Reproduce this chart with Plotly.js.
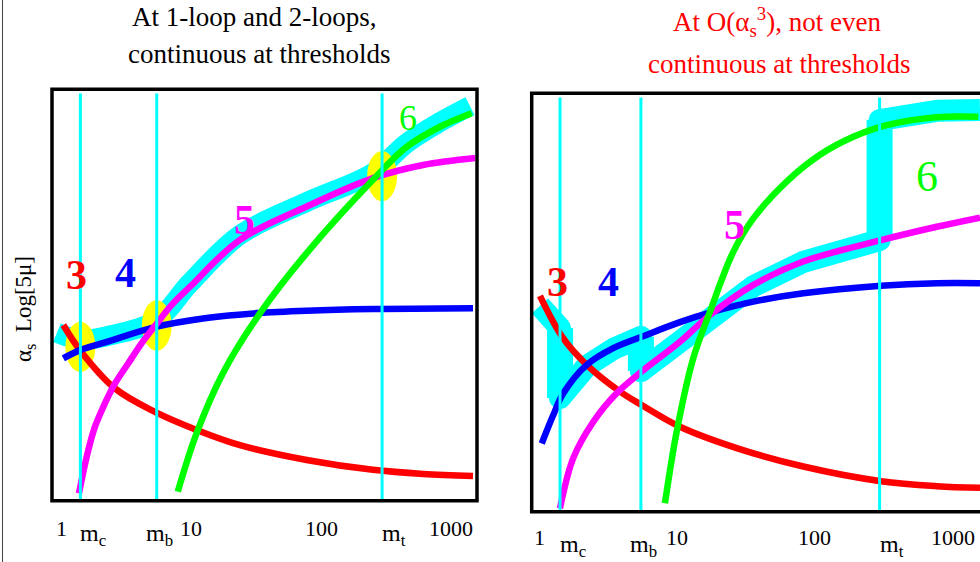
<!DOCTYPE html>
<html><head><meta charset="utf-8">
<script src="https://cdn.plot.ly/plotly-3.0.1.min.js"></script>
<style>
html,body{margin:0;padding:0;background:#fff;}
#chart{width:980px;height:562px;}
path.js-line{stroke-linejoin:round !important;}
</style>
</head><body><div id="chart"></div>
<script>
// ---- data (schematic) ----
const thresholdNames = ['m<sub>c</sub>', 'm<sub>b</sub>', 'm<sub>t</sub>'];
const thresholds = [1.41, 5.45, 295];           // scale mu (GeV), schematic
const scaleTicks = [1, 10, 100, 1000];
const scaleTickText = ['1', '10', '100', '1000'];
const flavourLabels = ['3', '4', '5', '6'];

// Left panel: 1-loop / 2-loop, continuous at thresholds
const L_red_x  = [1.042, 1.40, 2.60, 5.28, 11.07, 23.8, 77.6, 251, 610, 1476];
const L_red_y  = [42.7, 36.6, 27.3, 21.6, 17.2, 13.5, 9.9, 7.5, 6.5, 6.0];
const L_blue_x = [1.042, 1.40, 2.25, 5.28, 13.2, 32.0, 77.6, 251, 1476];
const L_blue_y = [34.6, 36.6, 38.6, 42.2, 44.4, 45.6, 46.2, 46.6, 46.8];
const L_mag_x  = [1.375, 1.577, 1.826, 2.180, 2.603, 3.294, 4.176, 5.285, 7.105, 9.82, 23.8, 77.6, 251, 610, 1531];
const L_mag_y  = [1.8, 10.7, 18.0, 23.7, 28.5, 33.4, 38.3, 42.5, 47.6, 52.0, 63.4, 71.5, 78.4, 81.6, 83.3];
const L_grn_x  = [7.91, 11.07, 17.6, 34.0, 77.6, 251, 456, 822, 1442];
const L_grn_y  = [2.2, 16.5, 31.0, 45.6, 60.2, 78.0, 86.0, 90.9, 94.2];
const L_band_x = [0.931, 1.41, 2.25, 5.45, 9.82, 23.8, 77.6, 251, 456, 822, 1400];
const L_band_y = [40.8, 39.1, 40.0, 43.9, 52.9, 64.6, 72.6, 79.7, 86.9, 92.0, 95.9];
const L_match_y = [37.4, 42.6, 78.9];          // matching points at mc, mb, mt

// Right panel: O(alpha_s^3), discontinuous
const R_red_x  = [1.008, 1.489, 2.203, 3.846, 5.521, 10.47, 27.04, 82.41, 302, 767, 1581];
const R_red_y  = [51.6, 41.4, 35.1, 28.7, 25.5, 20.3, 15.2, 10.8, 7.3, 6.1, 5.7];
const R_blue_x = [1.038, 1.259, 1.489, 2.203, 3.436, 5.521, 10.47, 18.28, 35.73, 82.41, 302, 767, 1581];
const R_blue_y = [16.3, 23.1, 28.3, 35.1, 39.1, 41.8, 45.3, 47.8, 50.2, 52.2, 54.0, 54.6, 54.6];
const R_mag_x  = [1.409, 1.758, 2.460, 3.631, 5.521, 10.47, 17.30, 35.73, 82.41, 302, 767, 1581];
const R_mag_y  = [0.8, 12.8, 21.5, 28.3, 33.5, 40.6, 47.0, 54.2, 59.8, 64.9, 68.1, 70.3];
const R_grn_x  = [8.147, 9.908, 13.09, 17.30, 25.53, 35.73, 62.37, 108.9, 190.1, 331.9, 767, 1538];
const R_grn_y  = [2.0, 19.1, 36.7, 47.8, 62.1, 70.1, 78.9, 85.3, 89.6, 92.4, 94.3, 94.4];
const R_band_x = [1.008, 1.41, 1.41, 2.203, 3.436, 5.45, 5.45, 10.47, 17.30, 35.73, 82.41, 295, 295, 767, 1581];
const R_band_y = [49.2, 43.9, 27.2, 34.8, 38.9, 41.8, 33.6, 40.6, 46.8, 53.9, 59.7, 64.9, 93.6, 95.8, 96.0];

// ---- styling / layout ----
const W = 980, H = 562;
const PX = p => p / W, PY = p => 1 - p / H;
const SERIF = "'Liberation Serif', 'Times New Roman', Times, serif";
const C = {red:'#ff0000', blue:'#0000ff', mag:'#ff00ff', grn:'#00ff00', cyan:'#00ffff', yel:'#ffff00'};
const curveW = 6.5;
const ELL_HALF_DEC = 0.115, ELL_HALF_Y = 6.1;   // size of the yellow matching blobs

function ln(x, y, color, width, xa, ya, shape) {
  return {type:'scatter', mode:'lines', x:x, y:y, xaxis:xa, yaxis:ya, hoverinfo:'skip', showlegend:false,
          line:{color:color, width:width, shape:shape || 'spline', smoothing:1}};
}
function thrLines(xa, ya) {
  return thresholds.map(t => ln([t, t], [99, 0], C.cyan, 3, xa, ya, 'linear'));
}
// wider strokes where the O(as^3) coupling jumps at a threshold
const jumpTraces = [];
for (let i = 1; i < R_band_x.length; i++) {
  if (R_band_x[i] === R_band_x[i - 1]) {
    jumpTraces.push(ln([R_band_x[i - 1], R_band_x[i]], [R_band_y[i - 1], R_band_y[i]], C.cyan, 26, 'x3', 'y3', 'linear'));
  }
}

const data = [
  ln(L_band_x, L_band_y, C.cyan, 20, 'x', 'y'),
  ln(L_red_x, L_red_y, C.red, curveW, 'x2', 'y2'),
  ln(L_blue_x, L_blue_y, C.blue, curveW, 'x2', 'y2'),
  ln(L_mag_x, L_mag_y, C.mag, curveW, 'x2', 'y2'),
  ln(L_grn_x, L_grn_y, C.grn, curveW, 'x2', 'y2'),
  ...thrLines('x2', 'y2'),
  ln(R_band_x, R_band_y, C.cyan, 22, 'x3', 'y3', 'linear'),
  ...jumpTraces,
  ln(R_red_x, R_red_y, C.red, curveW, 'x4', 'y4'),
  ln(R_blue_x, R_blue_y, C.blue, curveW, 'x4', 'y4'),
  ln(R_mag_x, R_mag_y, C.mag, curveW, 'x4', 'y4'),
  ln(R_grn_x, R_grn_y, C.grn, curveW, 'x4', 'y4'),
  ...thrLines('x4', 'y4')
];

const LD = {x:[PX(52), PX(477)], y:[PY(500.7), PY(89.3)], r:[-0.0692, 3.2]};
const RD = {x:[PX(531.7), 1], y:[PY(511.7), PY(93.3)], r:[-0.0566, 3.199]};
function xa(d, anchor) { return {domain:d.x, range:d.r, type:'log', visible:false, anchor:anchor, fixedrange:true}; }
function ya(d, anchor) { return {domain:d.y, range:[0, 100], visible:false, anchor:anchor, fixedrange:true}; }

const shapes = [
  {type:'rect', xref:'paper', yref:'paper', x0:LD.x[0], x1:LD.x[1], y0:LD.y[0], y1:LD.y[1],
   line:{color:'#000', width:3.5}, layer:'above'},
  {type:'rect', xref:'paper', yref:'paper', x0:RD.x[0], x1:1.05, y0:RD.y[0], y1:RD.y[1],
   line:{color:'#000', width:3.5}, layer:'above'},
  {type:'line', xref:'paper', yref:'paper', x0:PX(2.5), x1:PX(2.5), y0:0, y1:1,
   line:{color:'#444', width:1}, layer:'above'}
];
const ellF = Math.pow(10, ELL_HALF_DEC);
thresholds.forEach((t, i) => {
  shapes.push({type:'circle', xref:'x2', yref:'y2',
    x0:t / ellF, x1:t * ellF, y0:L_match_y[i] - ELL_HALF_Y, y1:L_match_y[i] + ELL_HALF_Y,
    fillcolor:C.yel, line:{width:0}, layer:'below'});
});

const ann = [];
function txt(text, x, y, size, color, extra) {
  ann.push(Object.assign({text:text, x:PX(x), y:PY(y), xref:'paper', yref:'paper', showarrow:false,
    xanchor:'center', yanchor:'middle', font:{family:SERIF, size:size, color:color}}, extra || {}));
}
txt('At 1-loop and 2-loops,', 253.5, 17.5, 27, '#000');
txt('continuous at thresholds', 259, 54, 27, '#000');
txt('At O(α<sub>s</sub><sup>3</sup>), not even', 777, 22, 27, '#f00');
txt('continuous at thresholds', 779, 64, 27, '#f00');
txt('α<sub>s</sub>\u00a0\u00a0Log[5μ]', 25, 309, 23, '#000', {textangle:-90});

const tickY = {x:528, x3:537.5};
const mY = {x:535, x3:546};
const mShift = [13, 3, 12];
['x', 'x3'].forEach(ref => {
  scaleTicks.forEach((v, i) => ann.push({text:scaleTickText[i], x:Math.log10(v), xref:ref, y:PY(tickY[ref]), yref:'paper',
    showarrow:false, xanchor:'center', yanchor:'middle', font:{family:SERIF, size:22, color:'#000'}}));
  thresholds.forEach((t, i) => ann.push({text:thresholdNames[i], x:Math.log10(t), xref:ref, y:PY(mY[ref]), yref:'paper',
    xshift:mShift[i], showarrow:false, xanchor:'center', yanchor:'middle', font:{family:SERIF, size:24, color:'#000'}}));
});
const flavColors = [C.red, C.blue, C.mag, C.grn];
const Lpos = [[76.7, 275, 42], [126, 273.3, 42], [244, 220, 42], [408.3, 118.3, 36]];
const Rpos = [[557.3, 281.7, 42], [608.3, 281.7, 42], [734, 225, 42], [926.7, 176.7, 44]];
[Lpos, Rpos].forEach(P => flavourLabels.forEach((s, i) => {
  const label = i < 3 ? '<b>' + s + '</b>' : s;
  txt(label, P[i][0], P[i][1], P[i][2], flavColors[i]);
}));

const layout = {
  width:W, height:H, margin:{l:0, r:0, t:0, b:0}, showlegend:false,
  paper_bgcolor:'#fff', plot_bgcolor:'rgba(0,0,0,0)',
  xaxis:xa(LD, 'y'), yaxis:ya(LD, 'x'),
  xaxis2:xa(LD, 'y2'), yaxis2:ya(LD, 'x2'),
  xaxis3:xa(RD, 'y3'), yaxis3:ya(RD, 'x3'),
  xaxis4:xa(RD, 'y4'), yaxis4:ya(RD, 'x4'),
  shapes:shapes, annotations:ann
};
Plotly.newPlot('chart', data, layout, {staticPlot:true, displayModeBar:false});
</script>
</body></html>
